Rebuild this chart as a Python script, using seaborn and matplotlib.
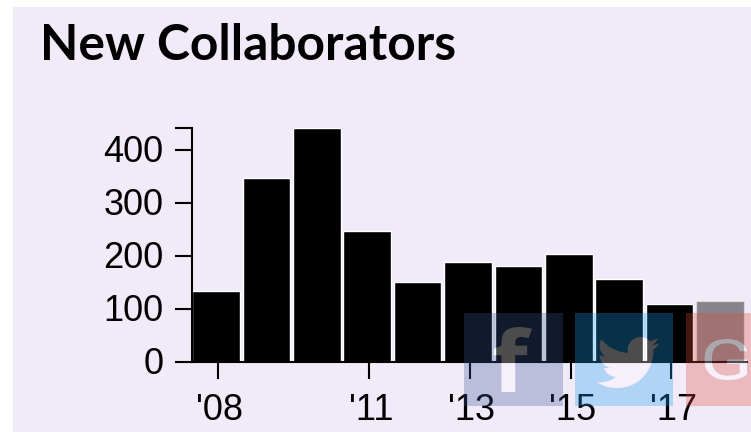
import re
import matplotlib
matplotlib.use("Agg")
import matplotlib.pyplot as plt
import numpy as np
import seaborn as sns
from matplotlib.font_manager import FontProperties
from matplotlib.patches import PathPatch, Rectangle
from matplotlib.path import Path
from matplotlib.text import TextPath
from matplotlib.transforms import ScaledTranslation

# data
years = ["'08", "'09", "'10", "'11", "'12", "'13", "'14", "'15", "'16", "'17", "'18"]
collaborators = [134, 347, 441, 247, 151, 188, 181, 204, 157, 109, 115]
y_ticks = [0, 100, 200, 300, 400]
x_tick_years = ["'08", "'11", "'13", "'15", "'17"]

W, H = 751, 432
BG = "#f1eaf8"

BIRD = ("M22.46,6C21.69,6.35 20.86,6.58 20,6.69C20.88,6.16 21.56,5.32 21.88,4.31C21.05,4.81 20.13,5.16 19.16,5.36"
        "C18.37,4.5 17.26,4 16,4C13.65,4 11.73,5.92 11.73,8.29C11.73,8.63 11.77,8.96 11.84,9.27C8.28,9.09 5.11,7.38 3,4.79"
        "C2.63,5.42 2.42,6.16 2.42,6.94C2.42,8.43 3.17,9.75 4.33,10.5C3.62,10.5 2.96,10.3 2.38,10C2.38,10 2.38,10 2.38,10.03"
        "C2.38,12.11 3.86,13.85 5.82,14.24C5.46,14.34 5.08,14.39 4.69,14.39C4.42,14.39 4.15,14.36 3.89,14.31"
        "C4.43,16 6,17.26 7.89,17.29C6.43,18.45 4.58,19.13 2.56,19.13C2.22,19.13 1.88,19.11 1.54,19.07"
        "C3.44,20.29 5.7,21 8.12,21C16,21 20.33,14.46 20.33,8.79C20.33,8.6 20.33,8.42 20.32,8.23C21.16,7.63 21.88,6.87 22.46,6Z")


def bird_path(x0, y0, scale):
    """Icon twitter: chuyen path SVG sang Path cua matplotlib"""
    verts, codes = [], []
    for cmd, args in re.findall(r"([MCZ])([^MCZ]*)", BIRD):
        nums = [float(n) for n in re.findall(r"-?[\d.]+", args)]
        pts = [(x0 + nums[i] * scale, y0 + nums[i + 1] * scale) for i in range(0, len(nums), 2)]
        if cmd == "M":
            verts += pts
            codes += [Path.MOVETO]
        elif cmd == "C":
            verts += pts
            codes += [Path.CURVE4] * len(pts)
        else:
            verts += [verts[0]]
            codes += [Path.CLOSEPOLY]
    return Path(verts, codes)


def glyph_box(char, family, weight, x0, y0, x1, y1):
    """Dua mot ky tu vao dung khung pixel (y huong xuong)"""
    tp = TextPath((0, 0), char, size=100, prop=FontProperties(family=family, weight=weight))
    v = tp.vertices
    sx = (x1 - x0) / np.ptp(v[:, 0])
    sy = (y1 - y0) / np.ptp(v[:, 1])
    out = np.column_stack([x0 + (v[:, 0] - v[:, 0].min()) * sx, y1 - (v[:, 1] - v[:, 1].min()) * sy])
    return Path(out, tp.codes)


def area(poly):
    x, y = poly[:, 0], poly[:, 1]
    return 0.5 * np.sum(x[:-1] * y[1:] - x[1:] * y[:-1])


def button(target, x, y, w, h, color, icon):
    """Nen mau co lo hinh icon, icon trang phu len lo do, ca hai alpha 0.3"""
    rect = np.array([(x, y), (x + w, y), (x + w, y + h), (x, y + h), (x, y)], dtype=float)
    polys = [rect]
    for p in icon.to_polygons():
        polys.append(p if area(p) < 0 else p[::-1])
    verts = np.concatenate(polys)
    codes = np.concatenate([[Path.MOVETO] + [Path.LINETO] * (len(p) - 2) + [Path.CLOSEPOLY] for p in polys])
    target.add_patch(PathPatch(Path(verts, codes), facecolor=color, edgecolor="none", alpha=0.3))
    target.add_patch(PathPatch(icon, facecolor="white", edgecolor="none", alpha=0.3))


sns.set_style("white")
plt.rcParams["font.family"] = ["Liberation Sans", "DejaVu Sans"]

fig = plt.figure(figsize=(W / 100, H / 100), dpi=100, facecolor="white")
fig.patches.append(Rectangle((13 / W, 0), (W - 13) / W, (H - 7) / H, transform=fig.transFigure,
                             facecolor=BG, edgecolor="none", zorder=-10))

# truc chinh
ax = fig.add_axes([192 / W, 1 - 362 / H, (747 - 192) / W, (362 - 128) / H])
ax.patch.set_alpha(0)
sns.barplot(x=years, y=collaborators, color="black", width=0.945, saturation=1, ax=ax)
ax.patches[-1].set_alpha(0.44)
ax.set_xlim(-0.476, 10.536)
ax.set_ylim(0, 441)

for side in ("top", "right"):
    ax.spines[side].set_visible(False)
for side in ("left", "bottom"):
    ax.spines[side].set_linewidth(1.5)
    ax.spines[side].set_color("black")

ax.set_yticks(y_ticks)
ax.set_yticks([441], minor=True)
# vach nam lech nhe so voi tam cot
ax.set_xticks([years.index(y) + 0.035 for y in x_tick_years])
ax.set_xticklabels(x_tick_years)
ax.tick_params(axis="y", which="both", left=True, length=12, width=1.5, color="black", pad=8, labelsize=26, labelcolor="black")
ax.tick_params(axis="x", bottom=True, length=12, width=1.5, color="black", pad=10.5, labelsize=26, labelcolor="black")

for lab in ax.get_xticklabels():
    lab.set_transform(lab.get_transform() + ScaledTranslation(2 / 100, 0, fig.dpi_scale_trans))
for lab in ax.get_yticklabels():
    lab.set_transform(lab.get_transform() + ScaledTranslation(-0.5 / 100, 1.5 / 100, fig.dpi_scale_trans))

fig.text(40.5 / W, 1 - 59.5 / H, "New Collaborators", family="Lato", fontweight="bold", fontsize=35.8, color="black", va="baseline")

# cac nut chia se nam de len bieu do
ov = fig.add_axes([0, 0, 1, 1], zorder=5)
ov.set_xlim(0, W)
ov.set_ylim(H, 0)
ov.axis("off")
button(ov, 464, 313, 99, 93, "#3b5998", glyph_box("f", "Open Sans", "bold", 492, 327, 532, 392))
button(ov, 575, 313, 98, 93, "#1da1f2", bird_path(592.4, 325, 3.0))
button(ov, 686, 313, 65, 93, "#dd4b39", glyph_box("G", "Roboto", "normal", 700, 339, 747, 380))

fig.savefig("out.png", dpi=100)
